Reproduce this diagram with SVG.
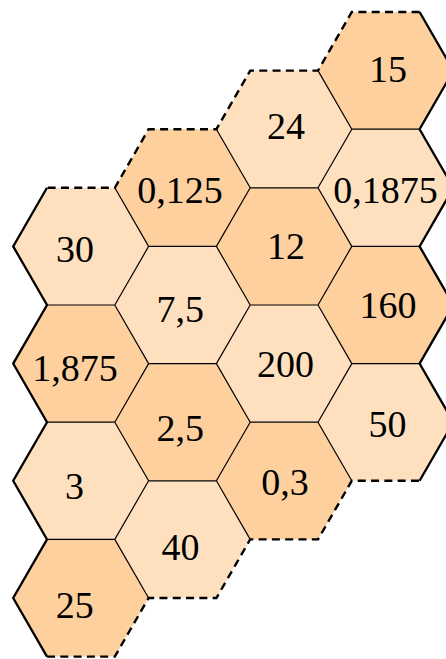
<svg xmlns="http://www.w3.org/2000/svg" xmlns:xlink="http://www.w3.org/1999/xlink" width="446" height="659" viewBox="0 0 446 659">
<style>
.light{fill:#FEE0BF;stroke:none}
.dark{fill:#FDD09D;stroke:none}
.lbl{font-family:"Liberation Serif","Times New Roman",serif;font-size:38px;fill:#000;text-anchor:middle}
.inner{fill:none;stroke:#000;stroke-width:1.2;stroke-linejoin:round}
.outer{fill:none;stroke:#000;stroke-width:2.3;stroke-linejoin:miter}
.dash{fill:none;stroke:#000;stroke-width:2.4;stroke-dasharray:8 5.3}
</style>
<defs>
<polygon id="hex" points="-67.7,0 -33.9,-58.6 33.9,-58.6 67.7,0 33.9,58.6 -33.9,58.6"/>
</defs>
<rect width="446" height="659" fill="#fff"/>
<g id="n-30"><use xlink:href="#hex" class="light" transform="translate(80.9,246.4)"/><text class="lbl" x="75" y="261.5">30</text></g>
<g id="n-1875"><use xlink:href="#hex" class="dark" transform="translate(80.9,363.6)"/><text class="lbl" x="75" y="381">1,875</text></g>
<g id="n-3"><use xlink:href="#hex" class="light" transform="translate(80.9,480.8)"/><text class="lbl" x="74.5" y="499.3">3</text></g>
<g id="n-25"><use xlink:href="#hex" class="dark" transform="translate(80.9,598)"/><text class="lbl" x="74.7" y="618.3">25</text></g>
<g id="n-0125"><use xlink:href="#hex" class="dark" transform="translate(182.5,187.8)"/><text class="lbl" x="180" y="202.7">0,125</text></g>
<g id="n-75"><use xlink:href="#hex" class="light" transform="translate(182.5,305)"/><text class="lbl" x="180.3" y="321.5">7,5</text></g>
<g id="n-25b"><use xlink:href="#hex" class="dark" transform="translate(182.5,422.2)"/><text class="lbl" x="180.3" y="440.5">2,5</text></g>
<g id="n-40"><use xlink:href="#hex" class="light" transform="translate(182.5,539.4)"/><text class="lbl" x="180.5" y="560">40</text></g>
<g id="n-24"><use xlink:href="#hex" class="light" transform="translate(284.1,129.2)"/><text class="lbl" x="286" y="139.3">24</text></g>
<g id="n-12"><use xlink:href="#hex" class="dark" transform="translate(284.1,246.4)"/><text class="lbl" x="286" y="258.5">12</text></g>
<g id="n-200"><use xlink:href="#hex" class="light" transform="translate(284.1,363.6)"/><text class="lbl" x="285.5" y="376.7">200</text></g>
<g id="n-03"><use xlink:href="#hex" class="dark" transform="translate(284.1,480.8)"/><text class="lbl" x="285" y="495">0,3</text></g>
<g id="n-15"><use xlink:href="#hex" class="dark" transform="translate(385.7,70.6)"/><text class="lbl" x="388" y="82.3">15</text></g>
<g id="n-01875"><use xlink:href="#hex" class="light" transform="translate(385.7,187.8)"/><text class="lbl" x="385.5" y="203">0,1875</text></g>
<g id="n-160"><use xlink:href="#hex" class="dark" transform="translate(385.7,305)"/><text class="lbl" x="388" y="318.3">160</text></g>
<g id="n-50"><use xlink:href="#hex" class="light" transform="translate(385.7,422.2)"/><text class="lbl" x="387.5" y="437.3">50</text></g>
<g id="edges">
<path class="inner" d="M114.8,187.8 L148.6,246.4 L114.8,305 L148.6,363.6 L114.8,422.2 L148.6,480.8 L114.8,539.4 L148.6,598
M216.4,129.2 L250.2,187.8 L216.4,246.4 L250.2,305 L216.4,363.6 L250.2,422.2 L216.4,480.8 L250.2,539.4
M318,70.6 L351.8,129.2 L318,187.8 L351.8,246.4 L318,305 L351.8,363.6 L318,422.2 L351.8,480.8
M47,305 H114.8 M47,422.2 H114.8 M47,539.4 H114.8
M148.6,246.4 H216.4 M148.6,363.6 H216.4 M148.6,480.8 H216.4
M250.2,187.8 H318 M250.2,305 H318 M250.2,422.2 H318
M351.8,129.2 H419.6 M351.8,246.4 H419.6 M351.8,363.6 H419.6"/>
<path class="outer" d="M47,187.8 L13.2,246.4 L47,305 L13.2,363.6 L47,422.2 L13.2,480.8 L47,539.4 L13.2,598 L47,656.6"/>
<path class="outer" d="M419.6,480.8 L453.4,422.2 L419.6,363.6 L453.4,305 L419.6,246.4 L453.4,187.8 L419.6,129.2 L453.4,70.6 L419.6,12"/>
<path class="dash" d="M47,656.6 L114.8,656.6 L148.6,598 L216.4,598 L250.2,539.4 L318,539.4 L351.8,480.8 L419.6,480.8"/>
<path class="dash" d="M419.6,12 L351.8,12 L318,70.6 L250.2,70.6 L216.4,129.2 L148.6,129.2 L114.8,187.8 L47,187.8"/>
</g>
</svg>
